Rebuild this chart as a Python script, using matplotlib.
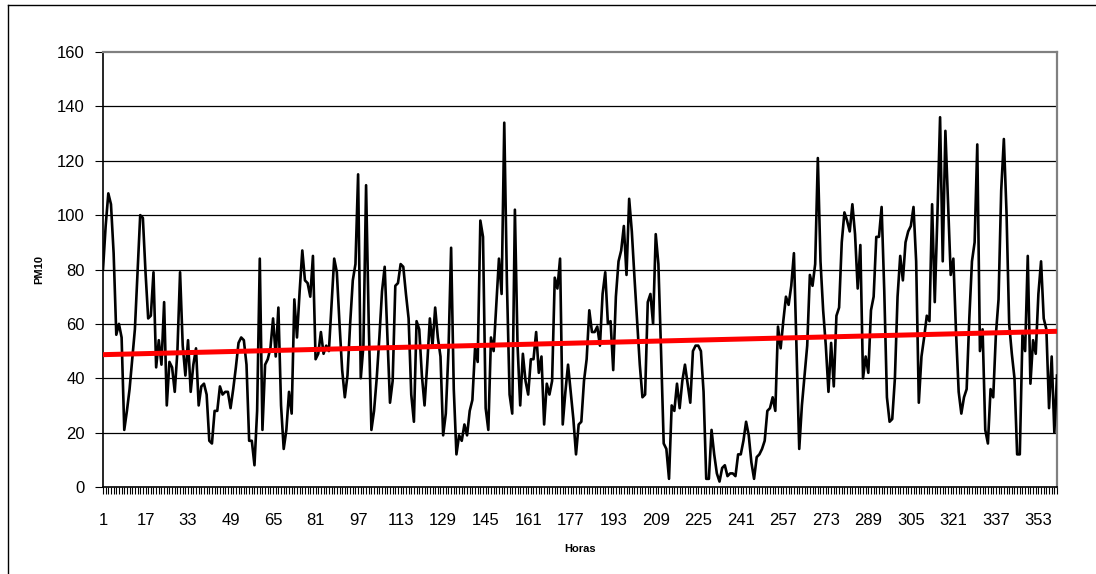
import numpy as np
import matplotlib
matplotlib.use('Agg')
import matplotlib.pyplot as plt
from matplotlib.lines import Line2D

# PM10 hourly values
pm10_a = [80, 96, 108, 104, 86, 56, 60, 55, 21, 28, 36, 47, 58, 79, 100, 99, 79, 62, 63, 79,
          44, 54, 45, 68, 30, 46, 44, 35, 50, 79, 52, 41, 54, 35, 45, 51, 30, 37, 38, 34,
          17, 16, 28, 28, 37, 34, 35, 35, 29, 36, 44, 53, 55, 54, 45, 17, 17, 8, 28, 84,
          21, 45, 47, 51, 62, 48, 66, 30, 14, 21, 35, 27, 69, 55, 72, 87, 76, 75, 70, 85,
          47, 49, 57, 49, 52, 50, 67, 84, 79, 60, 43, 33, 41, 60, 76, 82, 115, 40, 52, 111]
pm10_b = [60, 21, 28, 40, 55, 72, 81, 56, 31, 39, 74, 75, 82, 81, 71, 62, 34, 24, 61, 58,
          41, 30, 45, 62, 52, 66, 55, 48, 19, 27, 50, 88, 36, 12, 19, 17, 23, 19, 28, 32,
          51, 46, 98, 92, 29, 21, 55, 50, 67, 84, 71, 134, 75, 34, 27, 102, 52, 30, 49, 39,
          34, 47, 47, 57, 42, 48, 23, 38, 34, 39, 77, 73, 84, 23, 35, 45, 35, 25, 12, 23,
          24, 39, 47, 65, 57, 57, 59, 52, 71, 79, 60, 61, 43, 70, 83, 87, 96, 78, 106, 94]
pm10_c = [77, 61, 45, 33, 34, 68, 71, 60, 93, 82, 50, 16, 14, 3, 30, 28, 38, 29, 39, 45,
          38, 31, 50, 52, 52, 50, 35, 3, 3, 21, 12, 5, 2, 7, 8, 4, 5, 5, 4, 12,
          12, 17, 24, 19, 9, 3, 11, 12, 14, 17, 28, 29, 33, 28, 59, 51, 61, 70, 67, 74,
          86, 50, 14, 30, 41, 52, 78, 74, 82, 121, 83, 65, 52, 35, 53, 37, 63, 66, 90, 101,
          98, 94, 104, 93, 73, 89, 40, 48, 42, 65, 70, 92, 92, 103, 72, 33, 24, 25, 40, 70]
pm10_d = [85, 76, 90, 94, 96, 103, 83, 31, 48, 55, 63, 61, 104, 68, 100, 136, 83, 131, 105, 78,
          84, 57, 35, 27, 33, 36, 62, 83, 90, 126, 50, 58, 21, 16, 36, 33, 56, 69, 109, 128,
          101, 60, 49, 40, 12, 12, 56, 50, 85, 38, 54, 49, 71, 83, 62, 58, 29, 48, 20, 41]

pm10 = np.array(pm10_a + pm10_b + pm10_c + pm10_d, dtype=float)
horas = np.arange(1, len(pm10) + 1)
label_step = 16

plt.rcParams['font.family'] = ['Liberation Sans', 'DejaVu Sans']

fig = plt.figure(figsize=(10.96, 5.74), dpi=100)
ax = fig.add_axes([103 / 1096, 1 - 487 / 574, 954 / 1096, 435 / 574])

ax.plot(horas, pm10, color='black', lw=1.9, zorder=3)

# linear trend line
coef = np.polyfit(horas, pm10, 1)
ax.plot(horas, np.polyval(coef, horas), color='#ff0000', lw=3.6, zorder=4)

ax.set_xlim(horas[0], horas[-1])
ax.set_ylim(0, 160)
ax.set_yticks(np.arange(0, 161, 20))
ax.set_xticks(horas[::label_step])
ax.set_xticks(horas, minor=True)
ax.tick_params(axis='x', which='both', direction='out', length=5, width=0.8,
               labelsize=12, pad=14)
ax.tick_params(axis='y', direction='out', length=6, width=0.8, labelsize=12, pad=7)

for y in np.arange(20, 160, 20):
    ax.axhline(y, color='black', lw=0.9, zorder=1)

ax.spines['left'].set_color('black')
ax.spines['bottom'].set_color('black')
ax.spines['left'].set_linewidth(1.2)
ax.spines['bottom'].set_linewidth(1.2)
for s in ('top', 'right'):
    ax.spines[s].set_color('#808080')
    ax.spines[s].set_linewidth(1.6)

ax.set_xlabel('Horas', fontsize=8, fontweight='bold')
ax.xaxis.set_label_coords(0.5, -0.13)
ax.set_ylabel('PM10', fontsize=8, fontweight='bold')
ax.yaxis.set_label_coords(-0.062, 0.5)

# chart area border (left and top edges visible in the reference)
fig.add_artist(Line2D([8 / 1096, 8 / 1096], [0, 1 - 5 / 574], color='black', lw=1,
                      transform=fig.transFigure))
fig.add_artist(Line2D([8 / 1096, 1], [1 - 5 / 574, 1 - 5 / 574], color='black', lw=1,
                      transform=fig.transFigure))

fig.savefig('out.png', dpi=100)
